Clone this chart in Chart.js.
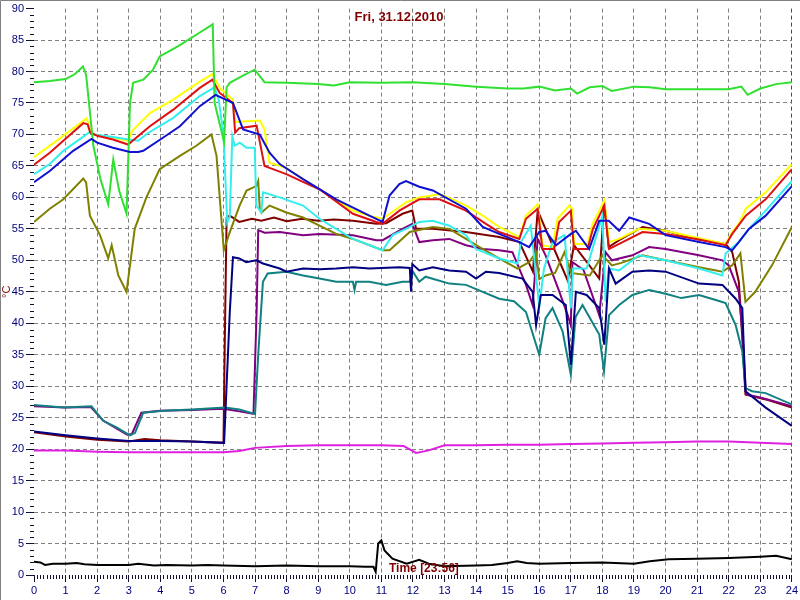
<!DOCTYPE html>
<html>
<head>
<meta charset="utf-8">
<title>Fri, 31.12.2010</title>
<script src="https://cdn.jsdelivr.net/npm/chart.js@4"></script>
<style>
    body { margin: 0; background: #fff; }
    #wrap { width: 800px; height: 600px; }
</style>
</head>
<body>
<div id="wrap"><canvas id="chart" width="800" height="600"></canvas></div>
<script>
// Readings for the day, [hour, °C]
const green = [[0,78.3],[0.5,78.5],[1.0,78.8],[1.3,79.6],[1.55,80.8],[1.65,79.5],[1.88,68.2],[2.1,63],[2.35,58.9],[2.51,66.0],[2.7,61],[2.93,57.4],[3.04,75],[3.14,78.2],[3.46,78.7],[3.77,80.3],[3.98,82.4],[4.3,83.3],[4.62,84.2],[5.25,86.2],[5.66,87.5],[5.72,75],[6.02,68.8],[6.1,77.5],[6.2,78.2],[6.6,79.3],[6.99,80.3],[7.3,78.3],[8,78.2],[9,78.0],[9.5,77.8],[10,78.3],[11,78.2],[12,78.3],[13,78.0],[14,77.6],[15,77.3],[15.5,77.3],[16,77.6],[16.5,77.0],[17,77.3],[17.2,76.5],[17.6,77.5],[18,77.7],[18.3,76.9],[19,77.6],[19.5,77.5],[20,77.2],[21,77.2],[22,77.2],[22.4,77.6],[22.6,76.3],[23,77.3],[23.5,78.0],[24,78.3]];
const yellow = [[0,66.4],[0.8,69.3],[1.67,72.6],[1.8,70.3],[2.0,69.9],[2.5,69.5],[2.98,69.0],[3.1,70.5],[3.67,73.4],[4.4,75.5],[5.25,78.4],[5.65,79.6],[5.9,77.3],[6.3,75.5],[6.38,72],[7.15,72.2],[7.3,70.8],[7.46,65.5],[7.99,64.7],[8.5,63],[9.04,61.3],[9.5,59.8],[10.1,57.9],[10.6,57.1],[11.05,56.6],[11.26,57.4],[11.78,59.2],[12.2,60.0],[12.84,60.5],[13.2,59.8],[13.68,58.7],[14.21,57.1],[14.73,55.3],[15.37,53.7],[15.58,57.1],[15.95,58.9],[16.1,52.4],[16.42,52.1],[16.58,56.6],[16.95,58.7],[17.05,58.2],[17.1,52.6],[17.53,52.6],[17.69,55.8],[18.06,59.5],[18.21,52.9],[18.53,53.4],[19.16,55.0],[20.0,54.7],[21.06,53.5],[21.9,52.6],[22.11,54.5],[22.32,55.8],[22.54,58.2],[23.17,60.8],[24,65.3]];
const red = [[0,65.2],[0.5,67.1],[1.0,69.3],[1.56,71.8],[1.7,71.6],[1.78,70.3],[2.0,69.8],[2.5,69.2],[2.98,68.4],[3.67,71.3],[4.4,73.9],[5.25,77.4],[5.65,78.7],[5.88,76.6],[6.3,75],[6.37,70.3],[6.5,71],[7.05,71.4],[7.3,65],[7.46,64.7],[7.99,63.7],[8.5,62.5],[9.04,61.3],[10.1,57.4],[10.84,56.1],[11.04,55.8],[11.57,57.9],[12.2,59.7],[12.84,59.7],[13.68,57.9],[14.31,55.8],[14.73,54.5],[15.37,53.4],[15.58,56.6],[15.95,58.2],[16.1,51.8],[16.47,51.8],[16.63,56.1],[17.0,57.9],[17.1,51.8],[17.53,51.8],[17.7,55],[18.06,58.7],[18.21,51.8],[18.53,52.6],[19.27,54.5],[20.0,54.2],[21.06,53.3],[21.9,52.4],[22.11,54.2],[22.54,57.1],[23.17,59.7],[24,64.5]];
const cyan = [[0,63.7],[0.5,65.3],[0.93,67.4],[1.77,70.4],[1.9,70.0],[2.5,69.6],[3.0,69.2],[3.3,69],[3.6,70.2],[4.4,72.6],[5.25,76.1],[5.72,77.5],[5.85,75.5],[6.0,70],[6.12,56],[6.2,57],[6.28,69.7],[6.35,68.2],[6.52,68.7],[6.73,67.9],[6.99,67.9],[7.04,58.7],[7.2,57.6],[7.25,60.8],[7.78,60],[8.52,58.7],[9.04,56.6],[9.57,55],[10.1,53.4],[11.04,51.6],[11.36,54],[11.78,55],[12.2,56.1],[12.63,56.3],[13.15,55.5],[13.68,54],[14.0,51.8],[14.73,50.3],[15.31,49.5],[15.42,52.9],[15.73,55.5],[15.85,50],[16.0,42.6],[16.15,48.7],[16.42,52.9],[16.8,54],[17.0,42.4],[17.07,48.7],[17.5,48.7],[18.0,57.1],[18.1,43.4],[18.2,48.7],[18.53,48.4],[19.16,50.8],[20.0,50],[21.06,48.7],[21.8,47.6],[21.9,51.1],[22.32,52.9],[22.64,55],[23.17,57.9],[24,62.6]];
const blue = [[0,62.4],[0.5,64.2],[1.24,67.4],[1.82,69.3],[2.0,68.7],[2.5,67.9],[3.04,67.2],[3.3,67.2],[3.46,67.4],[4.0,69.2],[4.62,71.3],[5.25,74.5],[5.75,76.3],[6.3,75],[6.62,70.8],[7.15,70],[7.46,67.1],[7.78,65.3],[8.52,62.9],[9.57,59.7],[10.62,57.1],[11.04,56.1],[11.26,60.3],[11.57,62.1],[11.78,62.6],[12.2,61.7],[12.63,61.1],[13.68,58.2],[14.21,55.3],[14.73,54.2],[15.37,52.9],[15.68,52.1],[16.0,54.5],[16.2,54.7],[16.53,52.4],[16.95,54],[17.16,54.7],[17.58,51.8],[17.9,56.3],[18.2,56.3],[18.53,54.7],[18.85,56.8],[19.48,55.8],[20.0,54],[21.06,52.9],[21.9,52.1],[22.11,51.6],[22.32,52.9],[22.64,55],[23.17,57.1],[24,61.8]];
const olive = [[0,56.1],[0.5,58.2],[0.93,59.7],[1.56,63],[1.65,62.4],[1.77,57.1],[2.09,54],[2.35,50.3],[2.46,52.4],[2.67,47.6],[2.93,45],[3.19,55],[3.56,60],[3.98,64.5],[4.62,66.6],[5.14,68.2],[5.62,70],[5.78,66.6],[6.01,51.6],[6.18,54.2],[6.51,58.7],[6.73,61.1],[7.04,61.8],[7.1,62.6],[7.15,58.2],[7.2,57.6],[7.46,58.7],[7.99,57.6],[8.52,56.8],[9.04,55.5],[9.57,54.2],[10.1,53.4],[11.04,51.6],[11.26,51.6],[11.9,54.5],[12.63,55.3],[13.15,55],[13.68,53.4],[14.21,51.8],[14.73,50.3],[15.31,48.7],[15.68,49.7],[15.9,51.3],[16.0,47],[16.2,47.6],[16.5,48],[16.8,51.3],[17.0,48],[17.6,47.6],[18.0,50.8],[18.3,49.2],[18.6,49.6],[19.27,50.8],[20.0,50],[21.06,48.9],[21.8,48.2],[22.11,49.2],[22.37,51.1],[22.53,43.4],[22.84,45],[23.37,49.2],[24,55.3]];
const maroon = [[0,22.7],[1,22],[2,21.5],[3,21.2],[3.5,21.6],[4,21.4],[5,21.2],[6.0,21.0],[6.05,40],[6.1,56.8],[6.2,57.1],[6.5,56.1],[6.9,56.6],[7.2,56.3],[7.6,56.8],[8.0,56.2],[8.5,56.6],[9.0,56.3],[9.5,56.5],[10.1,56.3],[10.84,55.8],[11.15,55.9],[11.67,57.4],[11.98,57.9],[12.1,55],[12.63,55],[13.68,54.5],[14.73,53.7],[15.37,52.9],[15.8,48.2],[15.95,57.9],[16.9,46.8],[17.1,52.4],[17.9,47.1],[18.06,59.2],[18.2,52.1],[18.53,53.2],[19.27,55.3],[20.0,54.7],[21.06,53.3],[21.9,52.6],[22.11,51.3],[22.32,46.6],[22.43,37.6],[22.53,28.7],[23.17,27.9],[24,26.6]];
const purple = [[0,26.8],[1.0,26.6],[1.8,26.7],[2.2,24.5],[2.95,22.3],[3.1,22.4],[3.4,25.8],[4.0,26.1],[5.0,26.2],[6.0,26.4],[6.5,26],[6.95,25.6],[7.05,41.8],[7.1,54.8],[7.3,54.4],[7.78,54.5],[8.52,54],[9.04,54.2],[10.1,54],[10.84,53.2],[11.04,53.2],[11.67,55],[11.98,55.8],[12.2,52.9],[12.63,53.2],[13.15,53.4],[13.68,52.4],[14.21,51.8],[14.73,51.6],[15.15,51.3],[15.58,46.1],[15.79,42.9],[15.95,53.4],[16.2,50.8],[16.6,45.5],[16.9,41.3],[17.0,39.7],[17.05,49.7],[17.4,48.5],[17.9,41.3],[18.1,51.3],[18.3,50],[18.95,50.8],[19.48,52.1],[20.0,51.8],[21.06,50.8],[21.8,50],[22.0,49.2],[22.32,45],[22.43,38.7],[22.55,28.7],[23,28.2],[24,26.8]];
const navy = [[0,22.8],[1,22.2],[2,21.7],[3,21.3],[4,21.3],[5,21.2],[6.02,21.0],[6.2,41.8],[6.3,50.5],[6.5,50.3],[6.72,49.7],[7.04,50],[7.25,49.5],[7.78,48.7],[8.0,48.2],[8.52,48.7],[9.04,48.6],[9.57,48.7],[10.1,48.9],[10.62,48.7],[11.57,48.9],[11.9,48.8],[11.94,45],[11.98,49.4],[12.2,48.4],[12.63,48.9],[13.15,48.4],[13.68,48.2],[14.0,47.1],[14.31,48.2],[14.73,48],[15.47,47.1],[15.79,45],[15.9,39.7],[16.05,44.5],[16.42,44.5],[16.84,42.9],[17.0,33.4],[17.16,45],[17.5,44.5],[17.9,42.4],[18.06,36.6],[18.21,48.7],[18.42,46.3],[18.95,48.2],[19.48,48.4],[20.0,48.2],[21.06,46.3],[21.8,46.1],[22.22,43.9],[22.43,42.4],[22.53,29.2],[23.17,26.6],[24,23.7]];
const teal = [[0,27],[0.93,26.6],[1.82,26.8],[2.19,24.5],[2.6,23.5],[3.04,22.2],[3.2,22.6],[3.46,25.8],[4.09,26.1],[5.0,26.3],[6.04,26.6],[6.5,26.3],[7.0,25.6],[7.1,35],[7.25,46.6],[7.4,47.9],[7.99,48.2],[8.52,47.6],[9.04,47.1],[9.57,46.6],[10.1,46.6],[10.15,45.3],[10.2,46.6],[10.62,46.6],[11.15,46.1],[11.67,46.6],[11.9,46.6],[12.0,48.2],[12.2,46.6],[12.4,47.4],[13.15,46.3],[13.68,46.1],[14.21,45],[14.73,43.9],[15.2,43.5],[15.58,41.8],[16.0,35],[16.2,40.8],[16.42,42.4],[16.74,38.7],[17.0,31.8],[17.15,41],[17.37,42.9],[17.9,38.2],[18.05,32.4],[18.21,41.3],[18.53,42.9],[18.95,44.5],[19.48,45.3],[20.0,44.7],[20.5,44.0],[21.06,44.5],[21.59,43.7],[21.9,43.2],[22.22,39.7],[22.43,35.5],[22.53,29.7],[22.74,29.2],[23.17,28.9],[24,27.1]];
const magenta = [[0,19.8],[1,19.8],[2,19.6],[3,19.5],[4,19.5],[5,19.5],[6,19.5],[6.5,19.7],[7,20.2],[8,20.5],[9,20.6],[10,20.6],[11,20.6],[11.7,20.5],[12.1,19.4],[12.5,19.8],[13,20.6],[14,20.6],[15,20.7],[16,20.7],[17,20.8],[18,20.9],[19,21.0],[20,21.1],[21,21.2],[22,21.2],[23,21.0],[24,20.8]];
const black = [[0,2.1],[0.2,2.0],[0.35,1.6],[0.6,1.8],[1.0,1.8],[1.35,1.9],[1.6,1.7],[2.0,1.6],[2.5,1.6],[3.0,1.6],[3.3,1.8],[3.8,1.5],[4.2,1.6],[5.0,1.5],[5.5,1.6],[6.0,1.5],[7,1.4],[8,1.5],[9,1.4],[10,1.4],[10.5,1.3],[10.75,1.3],[10.82,0.5],[10.9,5.0],[11.0,5.5],[11.1,3.9],[11.35,2.6],[11.8,1.8],[12.2,2.4],[12.5,1.8],[13,1.4],[14,1.5],[14.5,1.6],[15,1.9],[15.3,2.2],[15.6,1.9],[16,1.8],[17,1.9],[18,2.0],[19,1.8],[19.5,2.2],[20.1,2.5],[21,2.6],[22,2.7],[23,2.9],[23.5,3.05],[24,2.5]];

const titleText = 'Fri, 31.12.2010';
const timeText = 'Time [23:56]';
const unitText = '°C';
const hourMin = 0, hourMax = 24;
const tempMin = 0, tempMax = 90;

const FONT = 'Arial, "Liberation Sans", sans-serif';
const TICK_COLOR = '#101030';

function toPoints(arr) {
    return arr.map(([x, y]) => ({ x: x, y: y }));
}

// first in list is drawn on top
const series = [
    { data: black, color: '#000000' },
    { data: magenta, color: '#e020e0' },
    { data: navy, color: '#000080' },
    { data: teal, color: '#108080' },
    { data: blue, color: '#1010d0' },
    { data: green, color: '#30e030' },
    { data: red, color: '#dd1111' },
    { data: cyan, color: '#33eeee' },
    { data: yellow, color: '#ffff00' },
    { data: olive, color: '#808000' },
    { data: purple, color: '#800080' },
    { data: maroon, color: '#800000' }
];

// Frame, title, time label and minor ticks
const decorations = {
    id: 'decorations',
    beforeDraw(chart) {
        const ctx = chart.ctx;
        ctx.save();
        ctx.fillStyle = '#ffffff';
        ctx.fillRect(0, 0, chart.width, chart.height);
        ctx.restore();
    },
    afterDraw(chart) {
        const { ctx, chartArea, scales: { x, y } } = chart;
        ctx.save();

        // minor ticks
        ctx.strokeStyle = TICK_COLOR;
        ctx.lineWidth = 1;
        ctx.beginPath();
        for (let v = tempMin; v <= tempMax; v++) {
            if (v % 5 === 0) continue;
            const py = Math.round(y.getPixelForValue(v)) + 0.5;
            ctx.moveTo(chartArea.left - 4, py);
            ctx.lineTo(chartArea.left, py);
        }
        for (let i = hourMin * 10; i <= hourMax * 10; i++) {
            if (i % 10 === 0) continue;
            const px = Math.round(x.getPixelForValue(i / 10)) + 0.5;
            ctx.moveTo(px, chartArea.bottom);
            ctx.lineTo(px, chartArea.bottom + 4);
        }
        ctx.stroke();

        // window frame
        ctx.strokeStyle = '#808080';
        ctx.beginPath();
        ctx.moveTo(0.5, chart.height);
        ctx.lineTo(0.5, 0.5);
        ctx.lineTo(chart.width, 0.5);
        ctx.stroke();

        // title and time label
        ctx.fillStyle = '#800000';
        ctx.textBaseline = 'middle';
        ctx.textAlign = 'center';
        ctx.font = 'bold 13px ' + FONT;
        ctx.fillText(titleText, 399, 17);
        ctx.textAlign = 'left';
        ctx.font = 'bold 12px ' + FONT;
        ctx.fillText(timeText, 389, 569);
        ctx.restore();
    }
};

const ctx = document.getElementById('chart').getContext('2d');
new Chart(ctx, {
    type: 'line',
    data: {
        datasets: series.map(s => ({
            data: toPoints(s.data),
            borderColor: s.color,
            backgroundColor: s.color,
            borderWidth: 2,
            pointRadius: 0,
            tension: 0,
            fill: false
        }))
    },
    options: {
        responsive: false,
        animation: false,
        layout: { padding: { top: 5, right: 7, left: 0, bottom: 0 } },
        plugins: {
            legend: { display: false },
            tooltip: { enabled: false }
        },
        scales: {
            x: {
                type: 'linear',
                min: hourMin,
                max: hourMax,
                afterFit: s => { s.height = 25; },
                ticks: {
                    stepSize: 1,
                    autoSkip: false,
                    maxRotation: 0,
                    padding: 2,
                    color: '#000080',
                    font: { family: FONT, size: 11 }
                },
                grid: {
                    color: c => c.tick.value === hourMin ? 'rgba(0,0,0,0)' : (c.tick.value === hourMax ? '#008000' : '#808080'),
                    tickColor: TICK_COLOR,
                    tickLength: 7,
                    tickBorderDash: []
                },
                border: { display: false, dash: [4, 3] }
            },
            y: {
                min: tempMin,
                max: tempMax,
                afterFit: s => { s.width = 34; },
                title: {
                    display: true,
                    text: unitText,
                    color: '#800000',
                    padding: 0,
                    font: { family: FONT, size: 11 }
                },
                ticks: {
                    stepSize: 5,
                    padding: 2,
                    color: '#000080',
                    font: { family: FONT, size: 11 }
                },
                grid: {
                    color: c => (c.tick.value === tempMin || c.tick.value === tempMax) ? 'rgba(0,0,0,0)' : '#808080',
                    tickColor: TICK_COLOR,
                    tickLength: 8,
                    tickBorderDash: []
                },
                border: { display: false, dash: [4, 3] }
            }
        }
    },
    plugins: [decorations]
});
</script>
</body>
</html>
